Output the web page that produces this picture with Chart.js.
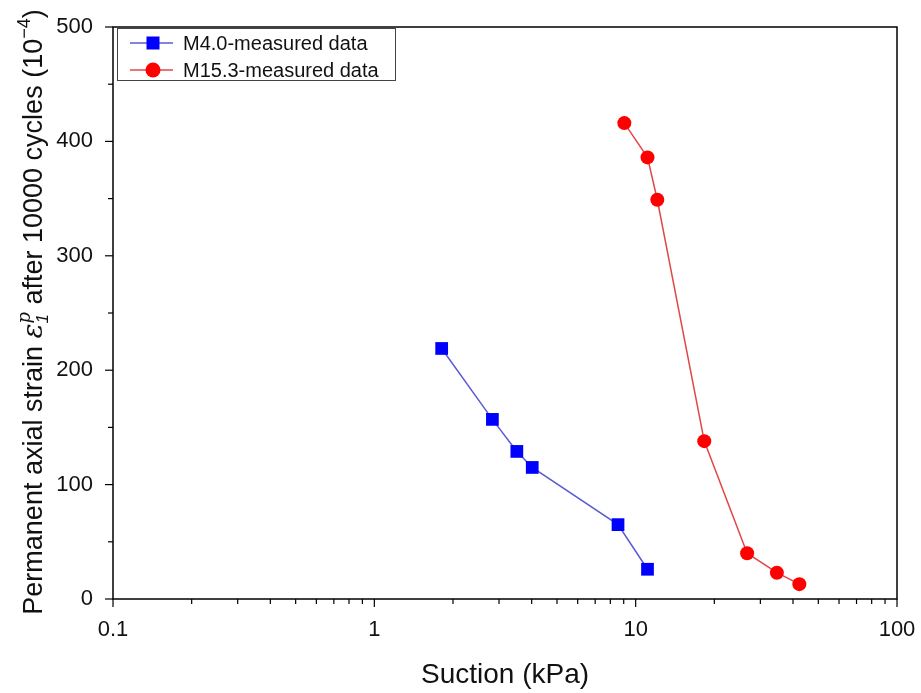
<!DOCTYPE html>
<html>
<head>
<meta charset="utf-8">
<script src="https://cdn.jsdelivr.net/npm/chart.js@4"></script>
<style>
  html, body { margin: 0; padding: 0; background: #fff; }
  #wrap { width: 921px; height: 693px; }
</style>
</head>
<body>
<div id="wrap"><canvas id="myChart" width="921" height="693"></canvas></div>
<script>
// suction (kPa) and permanent axial strain (1e-4)
const m40Suction = [1.81, 2.83, 3.51, 4.02, 8.56, 11.1];
const m40Strain = [219, 157, 129, 115, 65, 26];
const m153Suction = [9.05, 11.1, 12.1, 18.3, 26.7, 34.7, 42.3];
const m153Strain = [416, 386, 349, 138, 40, 23, 13];
const xDecades = [0.1, 1, 10, 100];
const yLabels = [0, 100, 200, 300, 400, 500];

const FONT = 'Arial, "Liberation Sans", sans-serif';
const ctx = document.getElementById('myChart').getContext('2d');

function toPoints(xs, ys) {
  return xs.map((x, i) => ({ x: x, y: ys[i] }));
}

// ticks, frame, y title and legend drawn by hand
const decorations = {
  id: 'decorations',
  afterDraw(chart) {
    const c = chart.ctx;
    const a = chart.chartArea;
    const xs = chart.scales.x;
    const ys = chart.scales.y;
    c.save();
    c.strokeStyle = '#000';
    c.lineWidth = 1.5;
    c.strokeRect(a.left, a.top, a.right - a.left, a.bottom - a.top);

    // x ticks
    c.lineWidth = 1.2;
    xs.ticks.forEach(t => {
      const px = xs.getPixelForValue(t.value);
      const major = xDecades.includes(t.value);
      c.beginPath();
      c.moveTo(px, a.bottom);
      c.lineTo(px, a.bottom + (major ? 8 : 5));
      c.stroke();
    });
    // y ticks
    ys.ticks.forEach(t => {
      const py = ys.getPixelForValue(t.value);
      const major = t.value % 100 === 0;
      c.beginPath();
      c.moveTo(a.left, py);
      c.lineTo(a.left - (major ? 8 : 5), py);
      c.stroke();
    });

    // y title with sub/superscripts
    const big = '27px ' + FONT;
    const segs = [
      { t: 'Permanent axial strain ', f: big, dy: 0 },
      { t: '\u03b5', f: 'italic 28px "DejaVu Serif", serif', dy: 0 },
      { t: '1', f: 'italic 17px ' + FONT, dy: 6, keep: true },
      { t: 'p', f: 'italic 18px "DejaVu Serif", serif', dy: -12 },
      { t: ' after 10000 cycles (10', f: big, dy: 0 },
      { t: '\u22124', f: '18px ' + FONT, dy: -12 },
      { t: ')', f: big, dy: 0 }
    ];
    let total = 0;
    segs.forEach(s => { c.font = s.f; s.w = c.measureText(s.t).width; if (!s.keep) total += s.w; });
    c.translate(42, 312);
    c.rotate(-Math.PI / 2);
    c.fillStyle = '#111';
    c.textBaseline = 'alphabetic';
    c.textAlign = 'left';
    let pos = -total / 2;
    segs.forEach(s => {
      c.font = s.f;
      c.fillText(s.t, pos, s.dy);
      if (!s.keep) pos += s.w;
    });
    c.restore();

    // legend
    c.save();
    const lx = 117, ly = 28, lw = 278, lh = 52;
    c.fillStyle = '#fff';
    c.fillRect(lx, ly, lw, lh);
    c.strokeStyle = '#444';
    c.lineWidth = 1;
    c.strokeRect(lx + 0.5, ly + 0.5, lw, lh);
    chart.data.datasets.forEach((ds, i) => {
      const yy = ly + 15 + i * 27;
      c.strokeStyle = ds.borderColor;
      c.lineWidth = ds.borderWidth;
      c.beginPath();
      c.moveTo(lx + 13, yy);
      c.lineTo(lx + 56, yy);
      c.stroke();
      c.fillStyle = ds.pointBackgroundColor;
      if (ds.pointStyle === 'rect') {
        c.fillRect(lx + 36 - 6.5, yy - 6.5, 13, 13);
      } else {
        c.beginPath();
        c.arc(lx + 36, yy, 7.5, 0, Math.PI * 2);
        c.fill();
      }
      c.fillStyle = '#111';
      c.font = '20px ' + FONT;
      c.textBaseline = 'middle';
      c.fillText(ds.label, lx + 66, yy + 1);
    });
    c.restore();
  }
};

new Chart(ctx, {
  type: 'scatter',
  data: {
    datasets: [
      {
        label: 'M4.0-measured data',
        data: toPoints(m40Suction, m40Strain),
        showLine: true,
        borderColor: '#5a5ad6',
        borderWidth: 1.5,
        pointStyle: 'rect',
        pointRadius: 9,
        pointHoverRadius: 9,
        pointBackgroundColor: '#0000ff',
        pointBorderColor: '#0000ff',
        pointBorderWidth: 0
      },
      {
        label: 'M15.3-measured data',
        data: toPoints(m153Suction, m153Strain),
        showLine: true,
        borderColor: '#e04848',
        borderWidth: 1.5,
        pointStyle: 'circle',
        pointRadius: 7,
        pointHoverRadius: 7,
        pointBackgroundColor: '#ff0000',
        pointBorderColor: '#ff0000',
        pointBorderWidth: 0
      }
    ]
  },
  options: {
    responsive: false,
    animation: false,
    layout: { padding: { left: 0, right: 24, top: 27, bottom: 0 } },
    plugins: { legend: { display: false }, tooltip: { enabled: false } },
    scales: {
      x: {
        type: 'logarithmic',
        min: 0.1,
        max: 100,
        afterBuildTicks: scale => {
          const t = [];
          xDecades.slice(0, 3).forEach(d => { for (let k = 1; k < 10; k++) t.push({ value: +(d * k).toPrecision(3) }); });
          t.push({ value: 100 });
          scale.ticks = t;
        },
        afterFit: scale => { scale.height = 94; scale.paddingLeft = 0; scale.paddingRight = 0; },
        grid: { display: false },
        border: { display: false },
        ticks: {
          autoSkip: false,
          maxRotation: 0,
          padding: 10,
          color: '#111',
          font: { size: 22, family: FONT },
          callback: v => xDecades.includes(v) ? String(v) : ''
        },
        title: {
          display: true,
          text: 'Suction (kPa)',
          color: '#111',
          font: { size: 28, family: FONT },
          padding: { top: 0, bottom: 1 }
        }
      },
      y: {
        min: 0,
        max: 500,
        afterFit: scale => { scale.width = 113; scale.paddingTop = 0; scale.paddingBottom = 0; },
        grid: { display: false },
        border: { display: false },
        ticks: {
          stepSize: 50,
          padding: 12,
          color: '#111',
          font: { size: 22, family: FONT },
          callback: v => yLabels.includes(v) ? String(v) : ''
        }
      }
    }
  },
  plugins: [decorations]
});
</script>
</body>
</html>
